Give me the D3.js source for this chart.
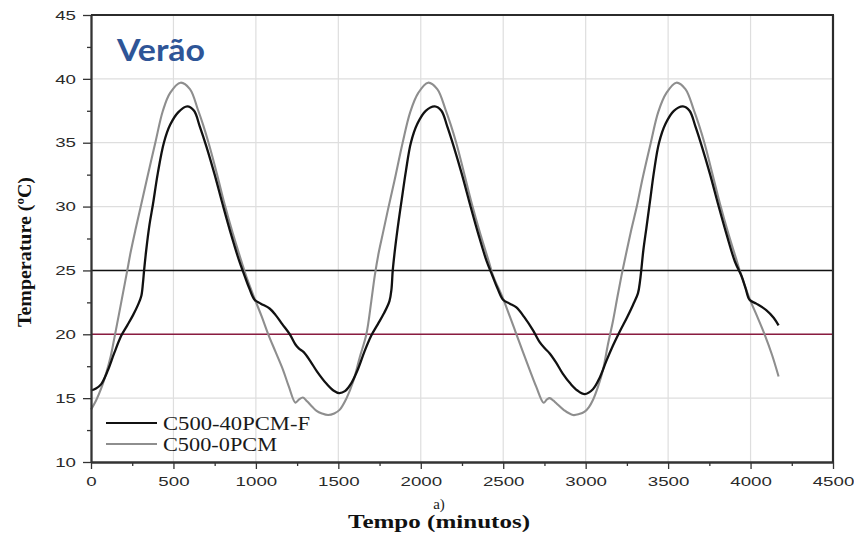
<!DOCTYPE html>
<html>
<head>
<meta charset="utf-8">
<script src="https://cdn.jsdelivr.net/npm/d3@7"></script>
<style>
  html, body { margin: 0; padding: 0; background: #ffffff; }
  svg { display: block; }
</style>
</head>
<body>
<svg id="chart" width="854" height="536"></svg>
<script>
// ---------- data ----------
const seriesNames = ["C500-40PCM-F", "C500-0PCM"];

const timeBlack = [0,30,62,103,140,184,220,255,285,305,315,322,335,355,376,405,442,480,530,584,625,659,700,750,800,850,900,931,960,992,1030,1085,1120,1160,1206,1240,1260,1290,1330,1370,1430,1470,1505,1540,1580,1620,1660,1700,1740,1775,1810,1822,1830,1845,1865,1885,1910,1940,1980,2030,2085,2125,2160,2200,2250,2300,2350,2400,2434,2465,2499,2540,2580,2630,2681,2720,2752,2782,2820,2862,2910,2950,2994,3044,3085,3125,3165,3206,3250,3287,3317,3330,3337,3350,3368,3390,3415,3445,3485,3535,3590,3630,3665,3705,3755,3805,3855,3905,3944,3970,3994,4035,4095,4140,4170];
const tempBlack = [15.6,15.75,16.1,17.2,18.5,19.9,20.7,21.5,22.3,23.0,24.0,25.0,26.6,28.6,30.2,32.6,35.0,36.4,37.4,37.85,37.5,36.3,34.7,32.5,30.1,27.8,25.7,24.6,23.6,22.7,22.4,22.0,21.5,20.8,20.0,19.2,18.9,18.6,17.9,17.1,16.1,15.6,15.4,15.55,16.2,17.3,18.7,19.9,20.8,21.6,22.6,23.5,25.0,26.8,28.8,30.6,32.8,35.0,36.5,37.5,37.85,37.5,36.3,34.7,32.5,30.1,27.8,25.7,24.6,23.6,22.7,22.4,22.1,21.3,20.3,19.4,18.9,18.5,17.8,16.9,16.1,15.6,15.32,15.7,16.6,17.9,19.1,20.2,21.3,22.3,23.2,24.2,25.0,26.6,28.3,30.4,32.8,35.0,36.5,37.5,37.85,37.5,36.3,34.7,32.5,30.1,27.8,25.7,24.6,23.6,22.7,22.4,21.9,21.3,20.7];

const timeGrey = [0,30,60,93,120,143,170,195,220,240,270,300,340,390,436,480,543,600,648,680,715,765,810,860,915,940,992,1035,1075,1120,1165,1200,1240,1262,1285,1310,1340,1368,1400,1438,1475,1509,1550,1590,1630,1670,1700,1721,1745,1770,1800,1840,1890,1936,1985,2044,2100,2150,2182,2217,2265,2310,2360,2415,2438,2499,2540,2580,2620,2661,2700,2745,2765,2782,2805,2822,2870,2923,2960,2994,3020,3044,3075,3105,3135,3165,3195,3222,3250,3277,3310,3345,3395,3440,3490,3550,3605,3655,3687,3722,3770,3815,3865,3920,3944,3994,4040,4085,4130,4170];
const tempGrey = [14.1,14.8,15.7,17.0,18.3,19.8,21.6,23.3,25.0,26.4,28.2,29.9,32.2,35.0,37.5,38.9,39.7,39.2,37.6,36.4,34.9,32.5,30.2,27.9,25.6,24.6,22.8,21.4,20.0,18.6,17.2,15.9,14.65,14.9,15.05,14.75,14.35,14.0,13.8,13.68,13.8,14.1,15.0,16.3,18.2,20.0,22.6,24.6,26.4,27.9,29.7,32.0,35.0,37.4,38.9,39.7,39.2,37.6,36.4,34.9,32.5,30.2,27.9,25.6,24.6,22.8,21.4,20.0,18.6,17.2,15.9,14.64,14.9,15.0,14.8,14.6,14.05,13.68,13.75,13.94,14.3,14.85,15.9,17.2,19.2,21.0,23.1,24.9,26.6,28.2,30.0,32.2,35.0,37.4,38.9,39.7,39.2,37.6,36.4,34.9,32.5,30.2,27.9,25.6,24.6,22.8,21.4,20.0,18.4,16.7];

const refLines = [25, 20];
const xTicks = [0,500,1000,1500,2000,2500,3000,3500,4000,4500];
const yTicks = [10,15,20,25,30,35,40,45];
const xMinor = [250,750,1250,1750,2250,2750,3250,3750,4250];
const yMinor = [12.5,17.5,22.5,27.5,32.5,37.5,42.5];

// ---------- layout ----------
const L = 91, R = 833, T = 15, B = 462;
const svg = d3.select("#chart");
const x = d3.scaleLinear().domain([0, 4500]).range([L, R]);
const y = d3.scaleLinear().domain([10, 45]).range([B, T]);

// gridlines
const grid = svg.append("g");
grid.selectAll("line.gx").data(xTicks.slice(1, -1)).enter().append("line")
  .attr("x1", d => x(d)).attr("x2", d => x(d)).attr("y1", T).attr("y2", B)
  .attr("stroke", "#dedede").attr("stroke-width", 1.2);
grid.selectAll("line.gy").data(yTicks.slice(1, -1)).enter().append("line")
  .attr("x1", L).attr("x2", R).attr("y1", d => y(d)).attr("y2", d => y(d))
  .attr("stroke", "#dedede").attr("stroke-width", 1.2);

// reference lines
const refColors = ["#111111", "#8a1c40"];
svg.selectAll("line.ref").data(refLines).enter().append("line")
  .attr("x1", L).attr("x2", R).attr("y1", d => y(d)).attr("y2", d => y(d))
  .attr("stroke", (d, i) => refColors[i]).attr("stroke-width", 1.6);

// series
const lineGen = d3.line().x(d => x(d[0])).y(d => y(d[1])).curve(d3.curveCatmullRom.alpha(0.5));
const greyData = timeGrey.map((t, i) => [t, tempGrey[i]]);
const blackData = timeBlack.map((t, i) => [t, tempBlack[i]]);
svg.append("path").datum(greyData).attr("d", lineGen)
  .attr("fill", "none").attr("stroke", "#8e8e8e").attr("stroke-width", 2.1)
  .attr("stroke-linejoin", "round");
svg.append("path").datum(blackData).attr("d", lineGen)
  .attr("fill", "none").attr("stroke", "#111111").attr("stroke-width", 2.3)
  .attr("stroke-linejoin", "round");

// axes
const axisColor = "#333333";
const fmt = d3.format("d");
const xAxis = svg.append("g").attr("transform", `translate(0,${B})`)
  .call(d3.axisBottom(x).tickValues(xTicks).tickFormat(fmt).tickSize(7).tickSizeOuter(0).tickPadding(8));
const xAxisMinor = svg.append("g").attr("transform", `translate(0,${B})`)
  .call(d3.axisBottom(x).tickValues(xMinor).tickSize(4).tickSizeOuter(0).tickFormat(""));
const yAxis = svg.append("g").attr("transform", `translate(${L},0)`)
  .call(d3.axisLeft(y).tickValues(yTicks).tickFormat(fmt).tickSize(8).tickSizeOuter(0).tickPadding(7));
const yAxisMinor = svg.append("g").attr("transform", `translate(${L},0)`)
  .call(d3.axisLeft(y).tickValues(yMinor).tickSize(4).tickSizeOuter(0).tickFormat(""));

[xAxis, xAxisMinor, yAxis, yAxisMinor].forEach(g => {
  g.select(".domain").attr("stroke", axisColor).attr("stroke-width", 1.8);
  g.selectAll(".tick line").attr("stroke", axisColor).attr("stroke-width", 1.3);
  g.selectAll(".tick text")
    .attr("fill", "#2a2a2a")
    .style("font-family", "'Liberation Sans', Arial, sans-serif")
    .style("font-size", "13px")
    .attr("textLength", function () { return this.textContent.length * 10.4; })
    .attr("lengthAdjust", "spacingAndGlyphs");
});

// top and right borders
svg.append("line").attr("x1", L).attr("x2", R + 1).attr("y1", T).attr("y2", T)
  .attr("stroke", "#2b2b2b").attr("stroke-width", 2.2);
svg.append("line").attr("x1", R).attr("x2", R).attr("y1", T).attr("y2", B)
  .attr("stroke", "#2b2b2b").attr("stroke-width", 2.2);

// title
svg.append("text").attr("x", 117).attr("y", 61)
  .text("Verão")
  .attr("fill", "#2e5597")
  .style("font-family", "Lato, 'Open Sans', sans-serif")
  .style("font-weight", "bold")
  .style("font-size", "30px")
  .attr("textLength", 88).attr("lengthAdjust", "spacingAndGlyphs");

// axis titles
svg.append("text")
  .attr("transform", "translate(31,252) rotate(-90)")
  .attr("text-anchor", "middle")
  .text("Temperature (ºC)")
  .attr("fill", "#111")
  .style("font-family", "'Liberation Serif', 'Times New Roman', serif")
  .style("font-weight", "bold")
  .style("font-size", "19px")
  .attr("textLength", 150).attr("lengthAdjust", "spacingAndGlyphs");

svg.append("text").attr("x", 439).attr("y", 528)
  .attr("text-anchor", "middle")
  .text("Tempo (minutos)")
  .attr("fill", "#111")
  .style("font-family", "'Liberation Serif', 'Times New Roman', serif")
  .style("font-weight", "bold")
  .style("font-size", "18px")
  .attr("textLength", 182).attr("lengthAdjust", "spacingAndGlyphs");

svg.append("text").attr("x", 439).attr("y", 509)
  .attr("text-anchor", "middle")
  .text("a)")
  .attr("fill", "#222")
  .style("font-family", "'Liberation Serif', 'Times New Roman', serif")
  .style("font-size", "15px");

// legend
const legendColors = ["#111111", "#8e8e8e"];
const legendY = [423, 444];
const legendW = [147, 114];
const lg = svg.append("g");
seriesNames.forEach((name, i) => {
  lg.append("line").attr("x1", 106).attr("x2", 157)
    .attr("y1", legendY[i]).attr("y2", legendY[i])
    .attr("stroke", legendColors[i]).attr("stroke-width", 2.2);
  lg.append("text").attr("x", 163).attr("y", legendY[i] + 6.5)
    .text(name)
    .attr("fill", "#1a1a1a")
    .style("font-family", "'Liberation Serif', 'Times New Roman', serif")
    .style("font-size", "18.5px")
    .attr("textLength", legendW[i]).attr("lengthAdjust", "spacingAndGlyphs");
});
</script>
</body>
</html>
